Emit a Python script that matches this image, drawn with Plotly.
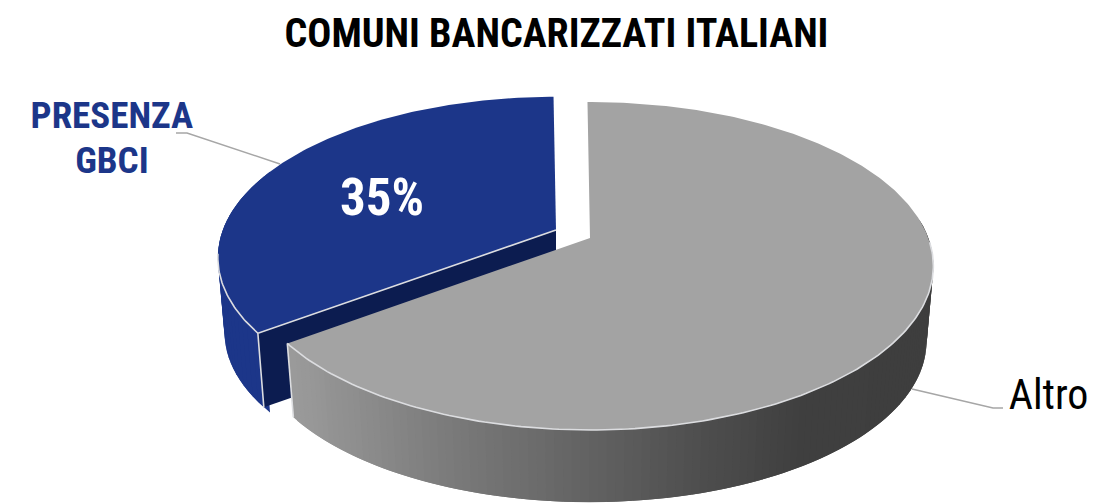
import numpy as np
import plotly.graph_objects as go

# --- data ---
categories = ["Altro", "PRESENZA<br>GBCI"]
values = [65, 35]
title_text = "COMUNI BANCARIZZATI ITALIANI"
slice_colors = ["#a3a3a3", "#1c3689"]
cut_colors = ["#6e6e6e", "#0c1c50"]

# --- 3D pie projection (constants of the drawing) ---
W, H = 1096, 503
K = 0.1708
RX, RY = 340.0, 159.2
DEPTH = 76.0
BOTTOM_SCALE = 0.98
START = -0.5
APEX = [(590.0, 238.0), (556.0, 230.0)]
SCALE_X = [0.995, 0.98]
SCALE_Y = [1.0, 0.98]
EDGE = "#dcdde0"


def project(deg, i, bottom=False):
    t = np.radians(np.asarray(deg, dtype=float))
    X, Y = np.sin(t), -np.cos(t)
    w = 1 - K * Y
    dx = SCALE_X[i] * RX * X / w
    dy = SCALE_Y[i] * RY * Y / w
    if bottom:
        return APEX[i][0] + BOTTOM_SCALE * dx, APEX[i][1] + DEPTH + BOTTOM_SCALE * dy
    return APEX[i][0] + dx, APEX[i][1] + dy


def gray_at(x):
    v = np.interp(x, [290, 450, 600, 700, 800, 935], [155, 122, 96, 78, 64, 62])
    return f"rgb({int(v)},{int(v)},{int(v)})"


fig = go.Figure()


def poly(xs, ys, color):
    fig.add_trace(go.Scatter(x=xs, y=ys, mode="lines", fill="toself", fillcolor=color,
                             line=dict(color=color, width=0), hoverinfo="skip", showlegend=False))


def line(xs, ys, color=EDGE, width=1.6):
    fig.add_trace(go.Scatter(x=xs, y=ys, mode="lines", line=dict(color=color, width=width),
                             hoverinfo="skip", showlegend=False))


def side(start, end, i, n, color_fn):
    """Outer wall as overlapping strips, painted in order from start to end."""
    edges = np.linspace(start, end, n + 1)
    step = edges[1] - edges[0]
    for s, e in zip(edges[:-1], edges[1:]):
        pair = np.linspace(s - step, e, 4)
        x_t, y_t = project(pair, i)
        x_b, y_b = project(pair, i, True)
        poly(np.r_[x_t, x_b[::-1]], np.r_[y_t, y_b[::-1]], color_fn(float(x_t.mean())))


total = sum(values)
a0 = START
a1 = a0 + 360 * values[0] / total
a2 = a1 + 360 * values[1] / total

# blue slice: outer side, cut face, top
side(a1, a1 + 60, 1, 30, lambda x: slice_colors[1])
cx_t, cy_t = project(a1, 1)
cx_b, cy_b = project(a1, 1, True)
ax, ay = APEX[1]
poly([ax, cx_t, cx_b, ax, ax], [ay, cy_t, cy_b, ay + DEPTH, ay], cut_colors[1])
arc = np.linspace(a1, a2, 160)
x_t, y_t = project(arc, 1)
poly(np.r_[ax, x_t, ax], np.r_[ay, y_t, ay], slice_colors[1])
arc = np.linspace(a1, a1 + 28, 40)
x_e, y_e = project(arc, 1)
line(x_e, y_e)
line([ax, cx_t, cx_b], [ay, cy_t, cy_b])

# gray slice: outer side gradient, top
side(a0 + 85, a1, 0, 120, gray_at)
gx_t, gy_t = project(a1, 0)
gx_b, gy_b = project(a1, 0, True)
line([gx_t, gx_b], [gy_t, gy_b])
arc = np.linspace(a0, a1, 300)
x_t, y_t = project(arc, 0)
ax, ay = APEX[0]
poly(np.r_[ax, x_t, ax], np.r_[ay, y_t, ay], slice_colors[0])
arc = np.linspace(a0 + 92, a1, 160)
x_e, y_e = project(arc, 0)
line(x_e, y_e)

# leader lines
line([176, 187, 280], [133, 133, 164], "#a6a6a6", 1.5)
line([912, 993, 1003], [389, 408, 408], "#a6a6a6", 1.5)


def note(x, y, text, size, color, bold=True):
    fig.add_annotation(x=x, y=y, xref="x", yref="y", text=text, showarrow=False,
                       font=dict(family="Roboto", size=size, color=color,
                                 weight="bold" if bold else "normal"))


note(556, 33, title_text, 40, "#000000")
for y_pos, part in zip([115, 160], categories[1].split("<br>")):
    note(112, y_pos, part, 37, slice_colors[1])
note(1048, 394, categories[0], 42, "#000000", bold=False)
note(382, 197, f"{round(100 * values[1] / total)}%", 51, "#ffffff")

fig.update_layout(width=W, height=H, margin=dict(l=0, r=0, t=0, b=0),
                  paper_bgcolor="white", plot_bgcolor="white", showlegend=False,
                  xaxis=dict(range=[0, W], visible=False, fixedrange=True),
                  yaxis=dict(range=[H, 0], visible=False, fixedrange=True))

fig.write_html("out.html", config={"displayModeBar": False}, post_script="""
document.body.style.margin='0';
document.body.style.overflow='hidden';
document.querySelectorAll('.annotation-text').forEach(function(e){e.style.fontStretch='75%';});
""")
